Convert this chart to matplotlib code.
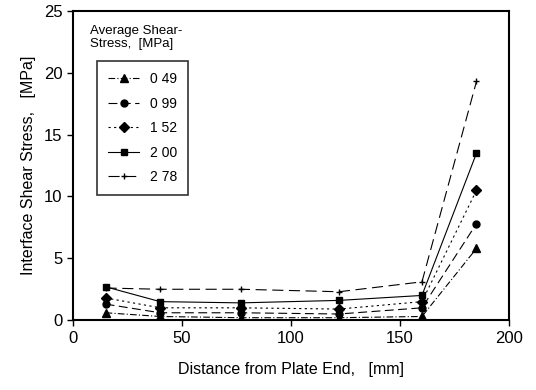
import matplotlib
matplotlib.use("Agg")
import matplotlib.pyplot as plt

plt.rcParams['font.family'] = ['Liberation Sans', 'DejaVu Sans']

# distance from plate end [mm]
dist = [15, 40, 77, 122, 160, 185]

# interface shear stress [MPa] per average shear stress level
s049 = [0.6, 0.3, 0.2, 0.2, 0.3, 5.8]
s099 = [1.3, 0.6, 0.6, 0.5, 1.0, 7.8]
s152 = [1.8, 1.0, 1.0, 0.9, 1.5, 10.5]
s200 = [2.7, 1.5, 1.4, 1.6, 2.0, 13.5]
s278 = [2.6, 2.5, 2.5, 2.3, 3.1, 19.3]

labels = ['0 49', '0 99', '1 52', '2 00', '2 78']

fig = plt.figure(figsize=(5.36, 3.9), dpi=100)
ax = fig.add_axes([0.136, 0.179, 0.814, 0.793])

ax.plot(dist, s049, color='black', lw=0.8, ls=(0, (6, 2, 1, 2)), marker='^', ms=6, label=labels[0])
ax.plot(dist, s099, color='black', lw=0.8, ls=(0, (8, 4)), marker='o', ms=5, label=labels[1])
ax.plot(dist, s152, color='black', lw=0.8, ls=(0, (2, 3)), marker='D', ms=5, label=labels[2])
ax.plot(dist, s200, color='black', lw=0.8, ls='-', marker='s', ms=5, label=labels[3])
ax.plot(dist, s278, color='black', lw=0.8, ls=(0, (10, 5)), marker='+', ms=5, label=labels[4])

ax.set_xlim(0, 200)
ax.set_ylim(0, 25)
ax.set_xticks([0, 50, 100, 150, 200])
ax.set_yticks([0, 5, 10, 15, 20, 25])
ax.tick_params(direction='out', length=4, width=1, labelsize=12)
for sp in ax.spines.values():
    sp.set_linewidth(1.5)

ax.set_xlabel('Distance from Plate End,   [mm]', fontsize=11.5, labelpad=12)
ax.set_ylabel('Interface Shear Stress,   [MPa]', fontsize=11.5, labelpad=6)

ax.text(0.04, 0.955, 'Average Shear-\nStress,  [MPa]', transform=ax.transAxes,
        fontsize=9.5, va='top', ha='left', linespacing=1.15)
leg = ax.legend(loc='upper left', bbox_to_anchor=(0.04, 0.86), frameon=True,
                fancybox=False, edgecolor='black', fontsize=10, handlelength=2.2,
                borderpad=0.8, labelspacing=0.75)
leg.get_frame().set_linewidth(1.2)

fig.savefig('out.png', dpi=100)
